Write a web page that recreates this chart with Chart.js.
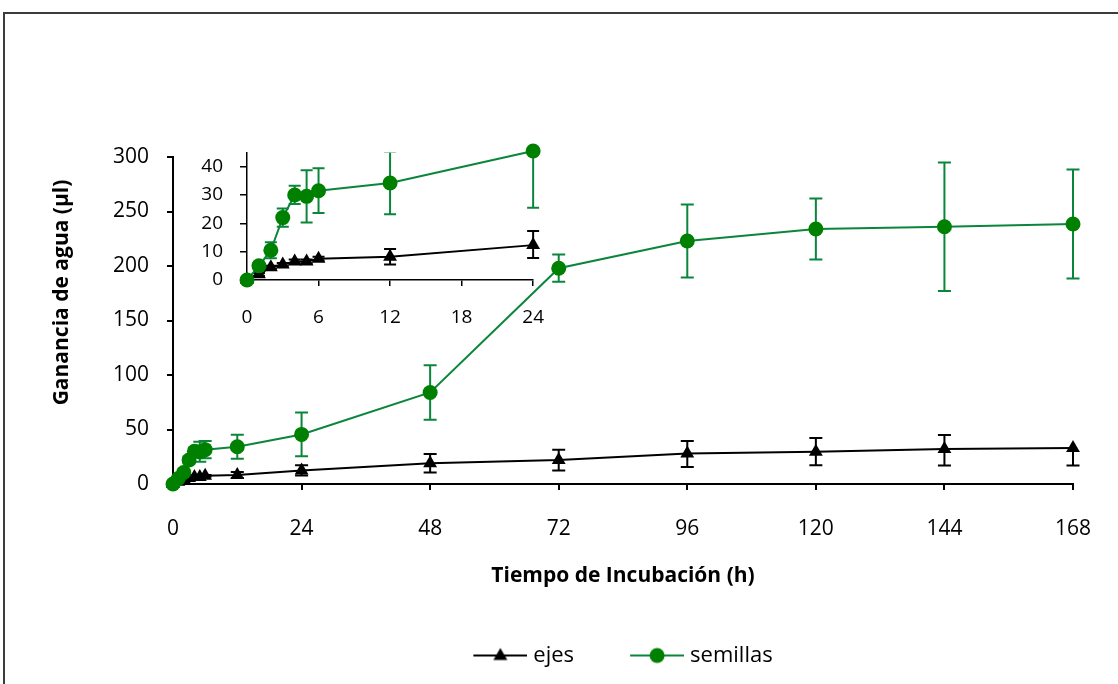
<!DOCTYPE html>
<html lang="es">
<head>
<meta charset="utf-8">
<title>Ganancia de agua</title>
<script src="https://cdn.jsdelivr.net/npm/chart.js@4.4.1/dist/chart.umd.min.js"></script>
<style>
  html, body { margin: 0; padding: 0; background: #fff; }
  #lienzo { position: relative; width: 1118px; height: 684px; overflow: hidden; }
  #marco { position: absolute; left: 3px; top: 12px; width: 1200px; height: 800px; border: 2px solid #3c3c3c; }
  #principal { position: absolute; left: 0; top: 0; }
  #inserto { position: absolute; left: 160px; top: 124px; }
</style>
</head>
<body>
<div id="lienzo">
  <div id="marco"></div>
  <canvas id="principal" width="1118" height="684"></canvas>
  <canvas id="inserto" width="404" height="206"></canvas>
</div>
<script>
// Datos (horas de incubación, ganancia en µl)
const tiempos = [0, 1, 2, 3, 4, 5, 6, 12, 24, 48, 72, 96, 120, 144, 168];
const ejes = [0, 2, 4.5, 5.5, 6.5, 6.5, 7.5, 8.2, 12.3, 19, 22, 28, 29.7, 32, 33];
const ejesErrSup = [0, 0.5, 0.5, 0.5, 0.7, 0.7, 0.7, 2.7, 5, 8.5, 9.5, 11.5, 12.5, 13, 0];
const ejesErrInf = [0, 0.5, 0.5, 0.5, 0.7, 0.7, 0.7, 2.7, 4.5, 8.5, 9.5, 12.5, 12.5, 15, 16];
const semillas = [0, 5, 10.5, 22, 30, 29.5, 31.5, 34.2, 45.5, 84, 198, 223, 234, 236, 238.5];
const semillasErr = [0, 0.5, 2.8, 3.2, 3.2, 9.2, 7.9, 11, 20, 25, 12.5, 33.5, 28, 59, 50];

// Marcas de los ejes de los dos gráficos
const marcasXPrincipal = [0, 24, 48, 72, 96, 120, 144, 168];
const marcasYPrincipal = [0, 50, 100, 150, 200, 250, 300];
const marcasXInserto = [0, 6, 12, 18, 24];
const marcasYInserto = [0, 10, 20, 30, 40];
const topeYInserto = 45;

const NEGRO = '#000000';
const VERDE_MARCA = '#008000';
const VERDE_LINEA = '#0b853c';
const FUENTE = "'Open Sans', 'Liberation Sans', sans-serif";

Chart.defaults.font.family = FUENTE;
Chart.defaults.color = NEGRO;

function puntos(xs, ys) {
    return xs.map((t, i) => ({ x: t, y: ys[i] }));
}

// Muestra de la leyenda: línea con el marcador en medio
function muestra(colorLinea, colorMarca, forma) {
    const c = document.createElement('canvas');
    c.width = 59; c.height = 22;
    const g = c.getContext('2d');
    g.strokeStyle = colorLinea; g.lineWidth = 2;
    g.beginPath(); g.moveTo(5, 11); g.lineTo(59, 11); g.stroke();
    g.fillStyle = colorMarca;
    g.beginPath();
    if (forma === 'circle') {
        g.arc(32, 11, 7.5, 0, Math.PI * 2);
    } else {
        g.moveTo(32, 3.5); g.lineTo(39, 15.5); g.lineTo(25, 15.5); g.closePath();
    }
    g.fill();
    return c;
}

// Barras de error dibujadas con las escalas del gráfico
const barrasError = {
    id: 'barrasError',
    beforeDatasetDraw(chart, args, opts) {
        const ds = chart.data.datasets[args.index];
        if (!ds.errSup) return;
        const xs = chart.scales.x, ys = chart.scales.y, a = chart.chartArea;
        const ctx = chart.ctx;
        const media = opts.ancho / 2;
        ctx.save();
        ctx.beginPath();
        ctx.rect(a.left - 20, a.top, a.right - a.left + 40, a.bottom - a.top + 20);
        ctx.clip();
        ctx.strokeStyle = ds.borderColor;
        ctx.lineWidth = opts.grosor;
        ds.data.forEach((p, i) => {
            const x = xs.getPixelForValue(p.x);
            const yc = ys.getPixelForValue(p.y);
            const sup = ds.errSup[i], inf = ds.errInf[i];
            ctx.beginPath();
            if (sup > 0) {
                const y1 = ys.getPixelForValue(p.y + sup);
                ctx.moveTo(x, yc); ctx.lineTo(x, y1);
                ctx.moveTo(x - media, y1); ctx.lineTo(x + media, y1);
            }
            if (inf > 0) {
                const y2 = ys.getPixelForValue(p.y - inf);
                ctx.moveTo(x, yc); ctx.lineTo(x, y2);
                ctx.moveTo(x - media, y2); ctx.lineTo(x + media, y2);
            }
            ctx.stroke();
        });
        ctx.restore();
    }
};

// Título del eje Y (algo por encima del centro, como en el original)
const tituloY = {
    id: 'tituloY',
    afterDraw(chart, args, opts) {
        const { ctx, chartArea } = chart;
        ctx.save();
        ctx.translate(opts.x, (chartArea.top + chartArea.bottom) / 2 + opts.desplazamiento);
        ctx.rotate(-Math.PI / 2);
        ctx.font = opts.fuente;
        ctx.fillStyle = NEGRO;
        ctx.textAlign = 'center';
        ctx.textBaseline = 'middle';
        ctx.fillText(opts.texto, 0, 0);
        ctx.restore();
    }
};

function series(xs, e, eSup, eInf, s, sErr, radio) {
    // semillas primero para que quede por encima de ejes
    return [
        {
            label: 'semillas', data: puntos(xs, s), errSup: sErr, errInf: sErr,
            borderColor: VERDE_LINEA, borderWidth: 2, backgroundColor: VERDE_MARCA,
            pointStyle: 'circle', pointRadius: radio, pointBackgroundColor: VERDE_MARCA,
            pointBorderColor: VERDE_MARCA, pointBorderWidth: 0, tension: 0, clip: 12,
            muestra: muestra(VERDE_LINEA, VERDE_MARCA, 'circle')
        },
        {
            label: 'ejes', data: puntos(xs, e), errSup: eSup, errInf: eInf,
            borderColor: NEGRO, borderWidth: 2, backgroundColor: NEGRO,
            pointStyle: 'triangle', pointRadius: radio + 0.5, pointBackgroundColor: NEGRO,
            pointBorderColor: NEGRO, pointBorderWidth: 0, tension: 0, clip: 12,
            muestra: muestra(NEGRO, NEGRO, 'triangle')
        }
    ];
}

function escala(marcas, tope, fuente, largo, relleno, grosor, ajuste) {
    return {
        type: 'linear', min: marcas[0], max: tope,
        ticks: { padding: relleno, font: { size: fuente }, color: NEGRO, maxRotation: 0 },
        grid: { drawOnChartArea: false, drawTicks: true, tickLength: largo, color: NEGRO, lineWidth: grosor },
        border: { display: true, color: NEGRO, width: grosor },
        afterBuildTicks: s => { s.ticks = marcas.map(v => ({ value: v })); },
        afterFit: ajuste
    };
}

// Gráfico principal
const xP = escala(marcasXPrincipal, 168, 21, 6, 26, 2, s => { s.height = 104.5; });
xP.title = {
    display: true, text: 'Tiempo de Incubación (h)', color: NEGRO,
    font: { size: 21, weight: 'bold' }, padding: { top: 0, bottom: 0 }
};
const yP = escala(marcasYPrincipal, 300, 21, 6, 18, 2, s => { s.width = 133; });

new Chart(document.getElementById('principal'), {
    type: 'line',
    data: { datasets: series(tiempos, ejes, ejesErrSup, ejesErrInf, semillas, semillasErr, 7.5) },
    plugins: [barrasError, tituloY],
    options: {
        responsive: false,
        animation: false,
        events: [],
        layout: { autoPadding: false, padding: { left: 40, right: 45, top: 157, bottom: 7.5 } },
        scales: { x: xP, y: yP },
        plugins: {
            tooltip: { enabled: false },
            barrasError: { ancho: 13, grosor: 2 },
            tituloY: { x: 62, desplazamiento: -28, texto: 'Ganancia de agua (µl)', fuente: "bold 21px " + FUENTE },
            legend: {
                position: 'bottom',
                fullSize: false,
                labels: {
                    usePointStyle: true,
                    pointStyleWidth: 49,
                    padding: 56,
                    color: NEGRO,
                    font: { size: 22 },
                    generateLabels: chart => [1, 0].map(i => {
                        const ds = chart.data.datasets[i];
                        return {
                            text: ds.label, pointStyle: ds.muestra, datasetIndex: i,
                            fillStyle: ds.backgroundColor, strokeStyle: ds.borderColor,
                            lineWidth: 0, hidden: false
                        };
                    })
                }
            }
        }
    }
});

// Gráfico insertado: primeras 24 h
const nIns = tiempos.filter(t => t <= marcasXInserto[marcasXInserto.length - 1]).length;
const xI = escala(marcasXInserto, 24, 19, 6, 20, 1.5, s => { s.height = 50; });
const yI = escala(marcasYInserto, topeYInserto, 19, 7, 17, 1.5, s => { s.width = 87; });

new Chart(document.getElementById('inserto'), {
    type: 'line',
    data: {
        datasets: series(
            tiempos.slice(0, nIns), ejes.slice(0, nIns), ejesErrSup.slice(0, nIns), ejesErrInf.slice(0, nIns),
            semillas.slice(0, nIns), semillasErr.slice(0, nIns), 7.5
        )
    },
    plugins: [barrasError],
    options: {
        responsive: false,
        animation: false,
        events: [],
        layout: { autoPadding: false, padding: { left: 0, right: 27, top: 22, bottom: 0 } },
        scales: { x: xI, y: yI },
        plugins: {
            legend: { display: false },
            tooltip: { enabled: false },
            barrasError: { ancho: 12, grosor: 2 }
        }
    }
});
</script>
</body>
</html>
